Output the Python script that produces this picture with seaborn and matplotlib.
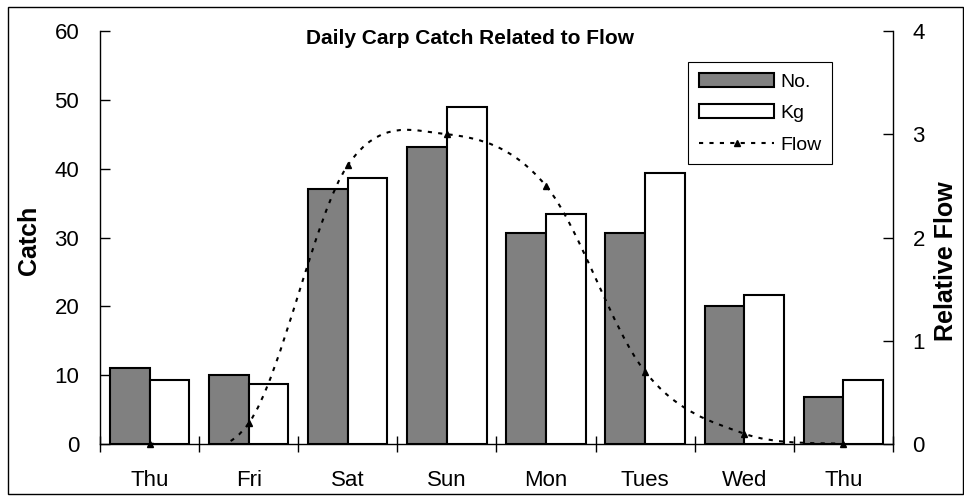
import numpy as np
import pandas as pd
import matplotlib
matplotlib.use('Agg')
import matplotlib.pyplot as plt
import seaborn as sns
from matplotlib.path import Path
from matplotlib.patches import PathPatch, Patch, Rectangle
from matplotlib.lines import Line2D

# values
days = ['Thu', 'Fri', 'Sat', 'Sun', 'Mon', 'Tues', 'Wed', 'Thu']
catch_no = [11.0, 10.0, 37.0, 43.1, 30.7, 30.7, 20.0, 6.9]
catch_kg = [9.3, 8.7, 38.7, 49.0, 33.4, 39.4, 21.7, 9.3]
flow = [0.0, 0.2, 2.7, 3.0, 2.5, 0.7, 0.1, 0.0]
series = ['No.', 'Kg']
bar_colors = ['#808080', '#ffffff']

sns.set_style('ticks')
plt.rcParams['font.family'] = ['Liberation Sans', 'DejaVu Sans']
plt.rcParams['text.color'] = 'black'
plt.rcParams['axes.labelcolor'] = 'black'
plt.rcParams['xtick.color'] = 'black'
plt.rcParams['ytick.color'] = 'black'

# slot index keeps the two Thursdays apart
df = pd.DataFrame({
    'slot': list(range(len(days))) * 2,
    'series': [series[0]] * len(days) + [series[1]] * len(days),
    'catch': catch_no + catch_kg,
})

fig, ax = plt.subplots(figsize=(9.64, 5.04), dpi=100)
fig.subplots_adjust(left=0.1037, right=0.9263, bottom=0.119, top=0.9385)

sns.barplot(data=df, x='slot', y='catch', hue='series', hue_order=series,
            palette=bar_colors, saturation=1, edgecolor='black', linewidth=1.5,
            errorbar=None, width=0.8, legend=False, ax=ax)

ax.set_xlim(-0.5, len(days) - 0.5)
ax.set_ylim(0, 60)
ax.set_yticks(range(0, 61, 10))
ax.set_xticks(range(len(days)))
ax.set_xticklabels(days)
ax.set_xticks(np.arange(-0.5, len(days), 1), minor=True)
ax.set_xlabel('')
ax.set_ylabel('')
ax.tick_params(axis='y', direction='in', length=7, width=1, labelsize=16, pad=15)
ax.tick_params(axis='x', which='major', length=0, labelsize=16, pad=18.5)
ax.tick_params(axis='x', which='minor', direction='inout', length=11, width=1)
for s in ['top', 'right']:
    ax.spines[s].set_visible(False)
for s in ['left', 'bottom']:
    ax.spines[s].set_color('black')
    ax.spines[s].set_linewidth(1)

# flow on the right axis, smoothed like the spreadsheet line
ax2 = ax.twinx()
xs = np.arange(len(flow), dtype=float)
ys = np.array(flow, dtype=float)
px = np.concatenate([[xs[0]], xs, [xs[-1]]])
py = np.concatenate([[ys[0]], ys, [ys[-1]]])
verts = [(xs[0], ys[0])]
codes = [Path.MOVETO]
for i in range(1, len(xs)):
    c1 = (px[i] + (px[i + 1] - px[i - 1]) / 6, py[i] + (py[i + 1] - py[i - 1]) / 6)
    c2 = (px[i + 1] - (px[i + 2] - px[i]) / 6, py[i + 1] - (py[i + 2] - py[i]) / 6)
    verts += [c1, c2, (px[i + 1], py[i + 1])]
    codes += [Path.CURVE4] * 3
ax2.add_patch(PathPatch(Path(verts, codes), fill=False, edgecolor='black',
                        lw=1.5, linestyle=(0, (2, 3))))
ax2.plot(xs, flow, ls='none', marker='^', ms=5, color='black', clip_on=False)

ax2.set_ylim(0, 4)
ax2.set_yticks(range(0, 5))
ax2.tick_params(axis='y', direction='in', length=7, width=1, labelsize=16, pad=14)
for s in ['left', 'top', 'bottom']:
    ax2.spines[s].set_visible(False)
ax2.spines['right'].set_color('black')
ax2.spines['right'].set_linewidth(1)

handles = [
    Patch(facecolor=bar_colors[0], edgecolor='black', lw=1.5, label=series[0]),
    Patch(facecolor=bar_colors[1], edgecolor='black', lw=1.5, label=series[1]),
    Line2D([], [], color='black', lw=1.5, ls=(0, (2, 3)), marker='^', ms=5, label='Flow'),
]
leg = ax2.legend(handles=handles, loc='upper left', bbox_to_anchor=(0.7415, 0.925),
                 borderaxespad=0, fancybox=False, edgecolor='black', framealpha=1,
                 fontsize=14, handlelength=3.9, handleheight=0.75, handletextpad=0.3,
                 labelspacing=0.7, borderpad=0.55, numpoints=1)
leg.get_frame().set_linewidth(0.8)

ax.text(0.4666, 0.983, 'Daily Carp Catch Related to Flow', transform=ax.transAxes,
        ha='center', va='center', fontsize=15, fontweight='bold')
fig.text(29 / 964, 1 - 240 / 504, 'Catch', rotation=90, ha='center', va='center',
         fontsize=18, fontweight='bold')
fig.text(946 / 964, 1 - 261 / 504, 'Relative Flow', rotation=90, ha='center', va='center',
         fontsize=18, fontweight='bold')

fig.patches.append(Rectangle((8 / 964, 10 / 504), 955 / 964, 487 / 504,
                             transform=fig.transFigure, fill=False, ec='black', lw=1))

fig.savefig('out.png', dpi=100)
